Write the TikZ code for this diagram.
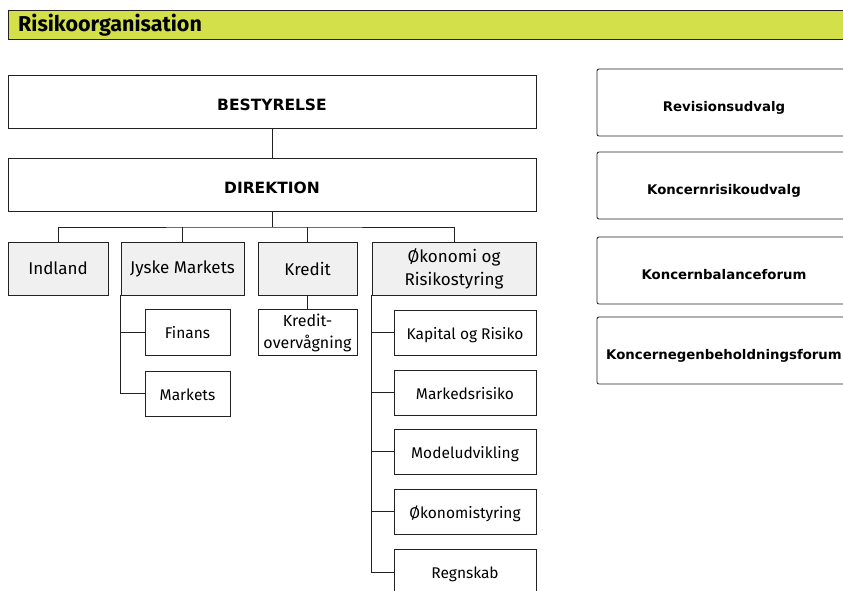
\documentclass[tikz,border=0pt]{standalone}
\usepackage{fontspec}
\setmainfont{Fira Sans}
\newfontfamily\heavyfont{DejaVu Sans}
\definecolor{hdr}{HTML}{D4E04A}
\definecolor{boxgray}{HTML}{F0F0F0}
\definecolor{edge}{HTML}{222222}
\begin{document}
\begin{tikzpicture}[x=1pt,y=-1pt,
  box/.style={draw=edge,line width=0.8pt,fill=white,inner sep=2pt,align=center,font=\fontsize{15.5}{22}\selectfont},
  unit/.style={box,fill=boxgray,minimum height=53pt,font=\fontsize{17}{23}\selectfont},
  sub/.style={box,minimum height=45pt,text height=13pt,text depth=0pt},
  board/.style={box,minimum width=528pt,minimum height=53pt,text height=17pt,text depth=0pt,font=\heavyfont\fontsize{15.5}{18}\bfseries\selectfont},
  forum/.style={box,rounded corners=2pt,minimum width=254pt,minimum height=67pt,text height=18pt,text depth=0pt,font=\heavyfont\fontsize{13.3}{16}\bfseries\selectfont},
  link/.style={draw=edge,line width=0.8pt}]
\clip (0,0) rectangle (843,590);
\fill[white] (0,0) rectangle (843,590);
% header
\node[draw=edge,line width=0.8pt,fill=hdr,minimum width=850pt,minimum height=29pt,anchor=north west,inner sep=0pt] (hdr) at (8,10) {};
\node[anchor=west,font=\fontsize{21.5}{24}\bfseries\selectfont,inner sep=0pt] (title) at (18,25.5) {Risikoorganisation};
% board
\node[board] (best) at (272,101.5) {BESTYRELSE};
\node[board] (direk) at (272,184.5) {DIREKTION};
\draw[link] (best.south) -- (direk.north);
% units
\node[unit,minimum width=100pt] (indland) at (58,268.5) {Indland};
\node[unit,minimum width=123pt] (jyske) at (182.5,268.5) {Jyske Markets};
\node[unit,minimum width=99pt] (kredit) at (307.5,268.5) {Kredit};
\node[unit,minimum width=164pt] (okon) at (454,268.5) {Økonomi og\\Risikostyring};
\coordinate (bus) at (272,227);
\draw[link] (direk.south) -- (bus);
\draw[link] (indland.north) |- (bus) -| (okon.north);
\draw[link] (jyske.north) -- (jyske.north |- bus);
\draw[link] (kredit.north) -- (kredit.north |- bus);
% Jyske Markets
\node[sub,minimum width=85pt,minimum height=46pt] (finans) at (187.5,332) {Finans};
\node[sub,minimum width=85pt] (markets) at (187.5,393.5) {Markets};
\draw[link] (jyske.south west) |- (markets.west);
\draw[link] (jyske.south west |- finans.west) -- (finans.west);
% Kredit
\node[draw=edge,line width=0.8pt,fill=white,inner sep=1pt,align=center,minimum width=99pt,minimum height=46pt,font=\fontsize{16}{22}\selectfont] (kov) at (307.5,332.5) {Kredit-\\overvågning};
\draw[link] (kredit.south) -- (kov.north);
% Okonomi
\node[sub,minimum width=142pt] (kap) at (465,332.5) {Kapital og Risiko};
\node[sub,minimum width=142pt] (mark) at (465,392.5) {Markedsrisiko};
\node[sub,minimum width=142pt] (model) at (465,451.5) {Modeludvikling};
\node[sub,minimum width=142pt] (okst) at (465,511.5) {Økonomistyring};
\node[sub,minimum width=142pt] (regn) at (465,572) {Regnskab};
\draw[link] (okon.south west) |- (regn.west);
\foreach \n in {kap,mark,model,okst}
  \draw[link] (okon.south west |- \n.west) -- (\n.west);
% forums
\node[forum] (rev) at (724,102.5) {Revisionsudvalg};
\node[forum] (kru) at (724,185.5) {Koncernrisikoudvalg};
\node[forum] (kbf) at (724,270.5) {Koncernbalanceforum};
\node[forum] (keb) at (724,350.5) {Koncernegenbeholdningsforum};
\end{tikzpicture}
\end{document}
